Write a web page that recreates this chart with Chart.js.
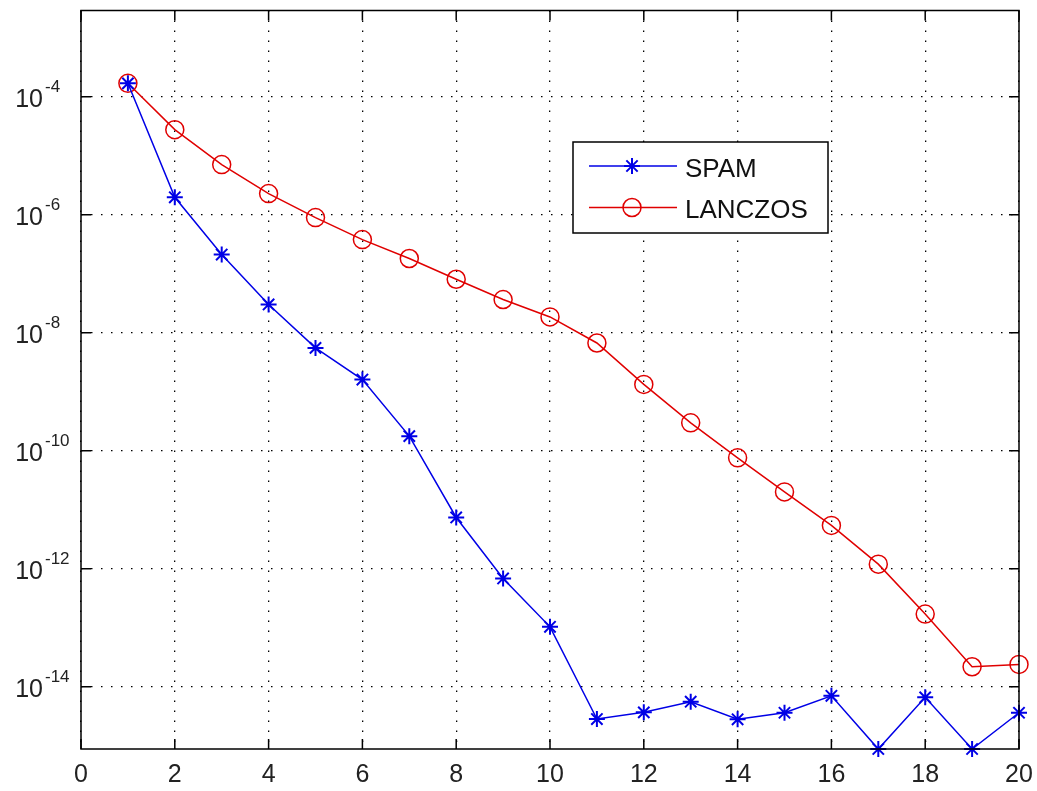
<!DOCTYPE html>
<html>
<head>
<meta charset="utf-8">
<script src="https://cdn.jsdelivr.net/npm/chart.js@4"></script>
<style>
  body { margin:0; background:#fff; }
  #wrap { width:1037px; height:791px; }
</style>
</head>
<body>
<div id="wrap"><canvas id="chart" width="1037" height="791"></canvas></div>
<script>
// iteration numbers
const iterations = [1,2,3,4,5,6,7,8,9,10,11,12,13,14,15,16,17,18,19,20];

// residuals
const spam = [1.68e-4, 1.97e-6, 2.11e-7, 3.01e-8, 5.53e-9, 1.61e-9, 1.77e-10, 7.41e-12, 6.87e-13, 1.04e-13,
              2.85e-15, 3.70e-15, 5.60e-15, 2.82e-15, 3.64e-15, 7.06e-15, 8.85e-16, 6.64e-15, 8.85e-16, 3.64e-15];
const lanczos = [1.68e-4, 2.76e-5, 7.05e-6, 2.28e-6, 8.93e-7, 3.78e-7, 1.81e-7, 8.05e-8, 3.65e-8, 1.85e-8,
                 6.70e-9, 1.33e-9, 2.97e-10, 7.59e-11, 2.01e-11, 5.43e-12, 1.20e-12, 1.71e-13, 2.19e-14, 2.40e-14];

// axes
const xTicks = [0,2,4,6,8,10,12,14,16,18,20];
const yTickExps = [-4,-6,-8,-10,-12,-14];
const yMin = 8.85e-16, yMax = 2.88e-3;

const toPoints = vals => vals.map((v, i) => ({x: iterations[i], y: v}));

// MATLAB-like frame, inner ticks, tick labels and legend
const matlabAxes = {
  id: 'matlabAxes',
  afterDraw(chart){
    const ctx = chart.ctx;
    const a = chart.chartArea;
    const xs = chart.scales.x, ys = chart.scales.y;
    ctx.save();

    // box
    ctx.strokeStyle = '#000';
    ctx.lineWidth = 1.5;
    ctx.setLineDash([]);
    ctx.strokeRect(a.left, a.top, a.right - a.left, a.bottom - a.top);

    // inner ticks
    const tl = 10;
    ctx.beginPath();
    xTicks.forEach(t => {
      const px = xs.getPixelForValue(t);
      ctx.moveTo(px, a.bottom); ctx.lineTo(px, a.bottom - tl);
      ctx.moveTo(px, a.top); ctx.lineTo(px, a.top + tl);
    });
    yTickExps.forEach(e => {
      const py = ys.getPixelForValue(Math.pow(10, e));
      ctx.moveTo(a.left, py); ctx.lineTo(a.left + tl, py);
      ctx.moveTo(a.right, py); ctx.lineTo(a.right - tl, py);
    });
    ctx.stroke();

    // tick labels
    ctx.fillStyle = '#222';
    ctx.font = '25px "Liberation Sans", Arial, sans-serif';
    ctx.textAlign = 'center';
    ctx.textBaseline = 'alphabetic';
    xTicks.forEach(t => {
      ctx.fillText(String(t), xs.getPixelForValue(t), a.bottom + 33);
    });
    yTickExps.forEach(e => {
      const py = ys.getPixelForValue(Math.pow(10, e));
      ctx.font = '25px "Liberation Sans", Arial, sans-serif';
      ctx.textAlign = 'right';
      ctx.fillText('10', a.left - 38, py + 10.5);
      ctx.font = '17px "Liberation Sans", Arial, sans-serif';
      ctx.textAlign = 'left';
      ctx.fillText(String(e), a.left - 36, py - 4.5);
    });

    // legend
    const lx = 573, ly = 142, lw = 255, lh = 91;
    ctx.fillStyle = '#fff';
    ctx.fillRect(lx, ly, lw, lh);
    ctx.strokeStyle = '#000';
    ctx.lineWidth = 1.5;
    ctx.strokeRect(lx, ly, lw, lh);
    const rows = [166, 207.5];
    chart.data.datasets.forEach((ds, i) => {
      const ry = rows[i];
      ctx.strokeStyle = ds.borderColor;
      ctx.lineWidth = ds.borderWidth;
      ctx.beginPath();
      ctx.moveTo(lx + 16, ry); ctx.lineTo(lx + 104, ry);
      ctx.stroke();
      ctx.strokeStyle = ds.pointBorderColor;
      ctx.fillStyle = ds.pointBackgroundColor;
      ctx.lineWidth = ds.pointBorderWidth;
      Chart.helpers.drawPoint(ctx, {
        pointStyle: ds.pointStyle, radius: ds.pointRadius,
        borderWidth: ds.pointBorderWidth, rotation: 0
      }, lx + 59, ry);
      ctx.fillStyle = '#111';
      ctx.font = '26px "Liberation Sans", Arial, sans-serif';
      ctx.textAlign = 'left';
      ctx.fillText(ds.label, lx + 112, ry + 10.5);
    });
    ctx.restore();
  }
};

new Chart(document.getElementById('chart'), {
  type: 'line',
  data: {
    datasets: [
      {
        label: 'SPAM',
        data: toPoints(spam),
        borderColor: '#0000e6',
        backgroundColor: 'transparent',
        borderWidth: 1.5,
        pointStyle: 'star',
        pointRadius: 8,
        pointBorderWidth: 2,
        pointBorderColor: '#0000e6',
        pointBackgroundColor: '#0000e6',
        tension: 0,
        clip: false
      },
      {
        label: 'LANCZOS',
        data: toPoints(lanczos),
        borderColor: '#e00000',
        backgroundColor: 'transparent',
        borderWidth: 1.5,
        pointStyle: 'circle',
        pointRadius: 9,
        pointBorderWidth: 1.5,
        pointBorderColor: '#e00000',
        pointBackgroundColor: 'rgba(0,0,0,0)',
        tension: 0,
        clip: false
      }
    ]
  },
  options: {
    responsive: false,
    animation: false,
    layout: { padding: { left: 81, right: 18, top: 10, bottom: 42 } },
    plugins: { legend: { display: false }, tooltip: { enabled: false } },
    scales: {
      x: {
        type: 'linear',
        min: 0, max: 20,
        afterBuildTicks: s => { s.ticks = xTicks.map(v => ({value: v})); },
        ticks: { display: false },
        grid: { color: '#000', lineWidth: 1.3, drawTicks: false },
        border: { display: false, dash: [1.5, 8.5] }
      },
      y: {
        type: 'logarithmic',
        min: yMin, max: yMax,
        afterBuildTicks: s => { s.ticks = yTickExps.map(e => ({value: Math.pow(10, e)})); },
        ticks: { display: false },
        grid: { color: '#000', lineWidth: 1.3, drawTicks: false },
        border: { display: false, dash: [1.5, 8.5] }
      }
    }
  },
  plugins: [matlabAxes]
});
</script>
</body>
</html>
